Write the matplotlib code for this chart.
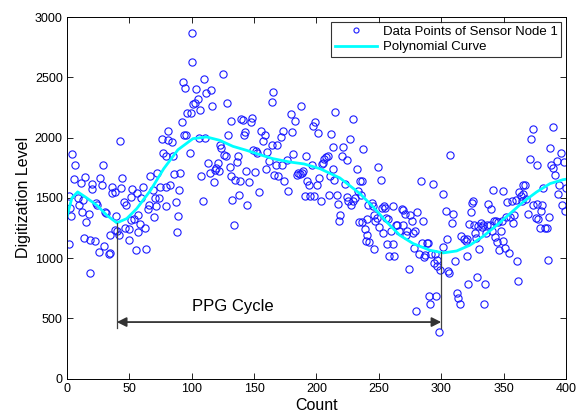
import matplotlib.pyplot as plt
import numpy as np

plt.rcParams['font.family'] = ['Liberation Sans', 'DejaVu Sans']

# sensor node 1 samples
counts = [
    1.6, 2.7, 3.5, 2, 4.3, 6.7, 6, 8.8, 9.6, 11.5, 12.3, 12.8, 14.4, 15.5, 17.4, 13.6, 18.2, 18.7, 20.3, 20,
    22.2, 23.5, 24, 26.5, 28, 29, 30.2, 31.6, 29.7, 25.7, 33.7, 34.8, 34.2, 36.4, 35.8, 38.2, 39.6, 38.2, 40, 41.7,
    42.5, 44.4, 43.6, 45.7, 47.6, 46.3, 49.7, 49.5, 52.4, 51.6, 51, 53.5, 55, 56.4, 56.9, 58.3, 57.2, 61, 59.6, 62.3,
    63.1, 65.8, 65, 66.8, 69, 69.8, 70.3, 71.7, 72.5, 74.3, 73.8, 76.2, 77, 79.1, 79.7, 79, 81, 81,
    82.4, 84.5, 85, 85.6, 87.2, 89, 88.3, 89.9, 91, 92.5, 93.1, 95, 93.6, 95.7, 96.3, 98.4, 99.8, 100.6, 101.1, 100,
    102.4, 103.2, 105.1, 105.9, 107, 107.8, 109.1, 110, 111, 111.8, 113.1, 114.5, 115.8, 116.6, 117.7, 118.5, 119.8,
    121.1, 122, 122.5, 123.8, 125.1, 126, 127.3, 128.4, 129.2, 130.5, 131.3, 132.6, 131.8, 133.7, 134.5, 136.4,
    137.2, 138, 139.1, 139.3, 141.2, 142, 142.8, 143.9, 144.7, 146, 147.9, 148.7, 149.2, 150.6, 151.9, 152.7, 154,
    155.9, 157.3, 158.6, 160.5, 159.9, 162.1, 164, 164.8, 164.2, 165.8, 167.2, 168.5, 169.3, 171.2, 172.2, 173.3,
    174.1, 176, 177.3, 179.5, 180.5, 181.3, 182.7, 184, 185.4, 186.7, 187.2, 188, 189.4, 190.7, 191.5, 192.6, 194.2,
    194.7, 196.1, 197.4, 198.7, 197.9, 200.6, 201.4, 202.2, 203.3, 204.1, 205.4, 206.2, 207.5, 209.4, 210.7, 209.9,
    211.5, 212.9, 213.4, 214.2, 214.8, 216.1, 217.4, 218.8, 218.2, 220.1, 220.9, 222.8, 224.1, 224.7, 225.5, 226.8,
    227.3, 228.9, 229.5, 230.8, 232.1, 233.5, 234.8, 234.3,
    235.6, 236.9, 236.1, 236.1, 238.8, 240.2, 239.6, 240.2, 241.5, 242.3, 244.2, 245.5, 246, 246.8, 246.3, 248.2,
    249.5, 250.3, 251.4, 252.2, 253, 254.1, 254.9, 255.7, 256.2, 257.5, 258.3, 259.4, 261, 261.5, 262.3, 263.7,
    264.7, 266.4, 268.2, 269, 269.6, 270.9, 271.7, 272.8, 274.4, 274.9, 276.3, 277.6, 278.1, 279.7, 278.9, 280.8,
    282.4, 283.5, 284.3, 285.1, 286.1, 287, 288.3, 289.6, 290.4, 291, 291.5, 293.1, 294.2, 295.8, 295, 296.3, 296.8,
    298.4, 299, 301.1, 301.7, 303.8, 304.9, 305.7, 306.5, 307, 308.3, 309.7, 311, 312.3, 313.1, 315,
    315.8, 318.2, 319.8, 320.9, 320.3, 321.7, 322.5, 323.6, 324.4, 325.7, 326.2, 327, 327.8, 328.9, 329.7, 330.5,
    331.6, 332.4, 333.7, 334.3, 335.1, 335.9, 336.4, 337.7, 339.1, 339.6, 340.4, 341.7, 342.5, 343.1, 343.9, 344.4,
    345.7, 346.6, 347.9, 348.4, 349.2, 349.8, 351.1, 351.9, 353, 354.6, 355.1, 356.4, 357.8, 358.6, 359.9, 361,
    361.8, 362.6, 364, 364.5, 365.3, 365.8, 367.4, 368, 369.8, 371.1, 371.7, 373.3, 373.8, 376, 376.5, 377, 377.8,
    379.2, 379.7, 380.5, 381.8, 383.2, 384.5, 385.9, 386.7, 387.2, 387.8, 389.3, 389.9, 391.2, 392.6, 393.9, 394.7,
    395.8, 396.6, 398, 399.3, 399.8,
]
levels = [
    1514, 1417, 1348, 1114, 1864, 1770, 1657, 1500, 1445, 1624, 1384, 1486, 1677, 1298, 1367, 1169, 1150, 879, 1619, 1577,
    1141, 1458, 1445, 1668, 1605, 1776, 1384, 1379, 1097, 1053, 1031, 1045, 1196, 1594, 1539, 1547, 1354, 1237, 1229, 1196,
    1975, 1666, 1583, 1464, 1445, 1251, 1245, 1150, 1575, 1506, 1313, 1321, 1064, 1541, 1362, 1285, 1218, 1588, 1500, 1251,
    1078, 1445, 1409, 1685, 1569, 1340, 1500, 1431, 1707, 1588, 1500, 1991, 1870, 1431, 1851, 1591, 1983, 2052,
    1610, 1964, 1845, 1699, 1464, 1354, 1218, 1569, 1707, 2127, 2458, 2416, 2025, 2025, 2204, 1873, 2204, 2872, 2278, 2626,
    2287, 2405, 2322, 1997, 2232, 1679, 1472, 2488, 1997, 2369, 1790, 1707, 2397, 2259, 1632, 1734, 1748,
    1790, 1721, 1942, 1914, 2527, 1859, 1845, 2287, 2025, 1754, 1679, 1481, 2140, 1274, 1652, 1798,
    1845, 1522, 1638, 2157, 2149, 2019, 2046, 1726, 1445, 1630, 2129, 2162, 1900, 1715, 1886, 1873, 1550,
    2052, 1969, 2025, 1881, 1743, 1804, 1942, 2375, 2300, 1693, 1770, 1936, 1679, 2002, 1776, 2058,
    1644, 1818, 1555, 2199, 2044, 1867, 2140, 1688, 1707, 1701, 2259, 1707, 1721, 1514, 1851, 1644, 1610,
    1514, 1776, 2093, 2129, 1514, 1605, 2038, 1666, 1472, 1782, 1790, 1826, 1837, 1845, 1679, 1522,
    2033, 1920, 1743, 1652, 2212, 1528, 1450, 1356, 1307, 1845, 1920, 1616, 1818, 1508, 1472, 1991,
    1445, 1472, 2157, 1500, 1740, 1561, 1638, 1301,
    1528, 1908, 1638, 1298, 1246, 1196, 1141, 1321, 1445, 1136, 1458, 1431, 1362, 1307, 1078, 1334,
    1754, 1257, 1652, 1417, 1210, 1431, 1417, 1334, 1119, 1326, 1017, 1229, 1437, 1119, 1017, 1279,
    1274, 1229, 1409, 1274, 1403, 1367, 1196, 1224, 907, 1362, 1307, 1210, 1086, 561, 1224, 1384,
    1031, 1644, 1127, 1312, 1009, 1026, 1127, 1122, 685, 616, 1031, 1616, 962, 685, 1031, 934, 981,
    384, 898, 1533, 1089, 1390, 1163, 893, 879, 1853, 1290, 1367, 975, 713, 671, 622,
    1183, 1163, 1141, 1163, 1017, 782, 1285, 1384, 1458, 1472, 1279, 1210, 1169, 844, 1265, 1078,
    1293, 1257, 1279, 622, 782, 1210, 1274, 1450, 1279, 1412, 1224, 1569, 1307, 1177, 1312, 1136,
    1298, 1072, 1229, 1307, 1561, 1141, 1081, 1340, 1464, 1045, 1340, 1472, 1293, 1356, 1486, 975,
    809, 1550, 1514, 1472, 1533, 1605, 1605, 1494, 1367, 1826, 1991, 2074, 1439, 1334, 1776, 1450, 1321,
    1251, 1390, 1445, 1583, 1251, 1251, 989, 1340, 1914, 1770, 2085, 1748, 1693, 1809, 1536, 1610,
    1873, 1445, 1798, 1395, 1583,
]

# polynomial curve as it appears in the reference
curve_counts = [0, 4, 8.6, 14.7, 24, 32, 40, 48, 56, 67, 77.6, 89, 101, 111.8, 122.5, 133, 143.9,
                154.6, 165, 178.6, 190, 202.7, 218.7, 234.8, 245.4, 256.2, 266.8, 277.5, 290.9,
                301.6, 312.3, 323, 333.7, 344.4, 355.1, 365.7, 376.5, 387.2, 397.8, 400]
curve_levels = [1345, 1500, 1550, 1508, 1439, 1356, 1293, 1329, 1412, 1563, 1743, 1900, 1992, 2006,
                1978, 1928, 1895, 1859, 1826, 1798, 1782, 1743, 1666, 1536, 1425, 1301, 1190, 1121,
                1066, 1044, 1060, 1108, 1182, 1273, 1370, 1467, 1550, 1619, 1652, 1655]

cycle_start = 40
cycle_end = 300

fig = plt.figure(figsize=(5.77, 4.18), dpi=100)
ax = fig.add_axes([0.116, 0.094, 0.865, 0.865])

ax.plot(counts, levels, 'o', mfc='none', mec='#1a1aff', ms=5.2, mew=0.8,
        label='Data Points of Sensor Node 1')
ax.plot(curve_counts, curve_levels, color='#00ffff', lw=2, solid_joinstyle='round',
        label='Polynomial Curve')

# PPG cycle markers
top_start = np.interp(cycle_start, curve_counts, curve_levels)
top_end = np.interp(cycle_end, curve_counts, curve_levels)
ax.plot([cycle_start, cycle_start], [top_start, 420], color='#404040', lw=0.9)
ax.plot([cycle_end, cycle_end], [top_end, 420], color='#404040', lw=0.9)
ax.annotate('', xy=(cycle_start, 470), xytext=(cycle_end, 470),
            arrowprops=dict(arrowstyle='<|-|>', color='#333333', lw=1.3,
                            mutation_scale=14, shrinkA=0, shrinkB=0))
ax.text(133, 600, 'PPG Cycle', fontsize=12, ha='center', va='center')

ax.set_xlim(0, 400)
ax.set_ylim(0, 3000)
ax.set_xticks(range(0, 401, 50))
ax.set_yticks(range(0, 3001, 500))
ax.tick_params(direction='in', top=True, right=True, labelsize=9, length=4, width=0.6, pad=3)
for s in ax.spines.values():
    s.set_linewidth(0.7)
ax.set_xlabel('Count', fontsize=11.5, labelpad=2)
ax.set_ylabel('Digitization Level', fontsize=11.5, labelpad=3)

leg = ax.legend(loc='upper right', fontsize=9.5, frameon=True, fancybox=False,
                edgecolor='black', borderaxespad=0.35, handlelength=3.2,
                handletextpad=0.4, markerscale=0.7, borderpad=0.3, labelspacing=0.25)
leg.get_frame().set_linewidth(0.8)

fig.savefig('out.png', dpi=100)
